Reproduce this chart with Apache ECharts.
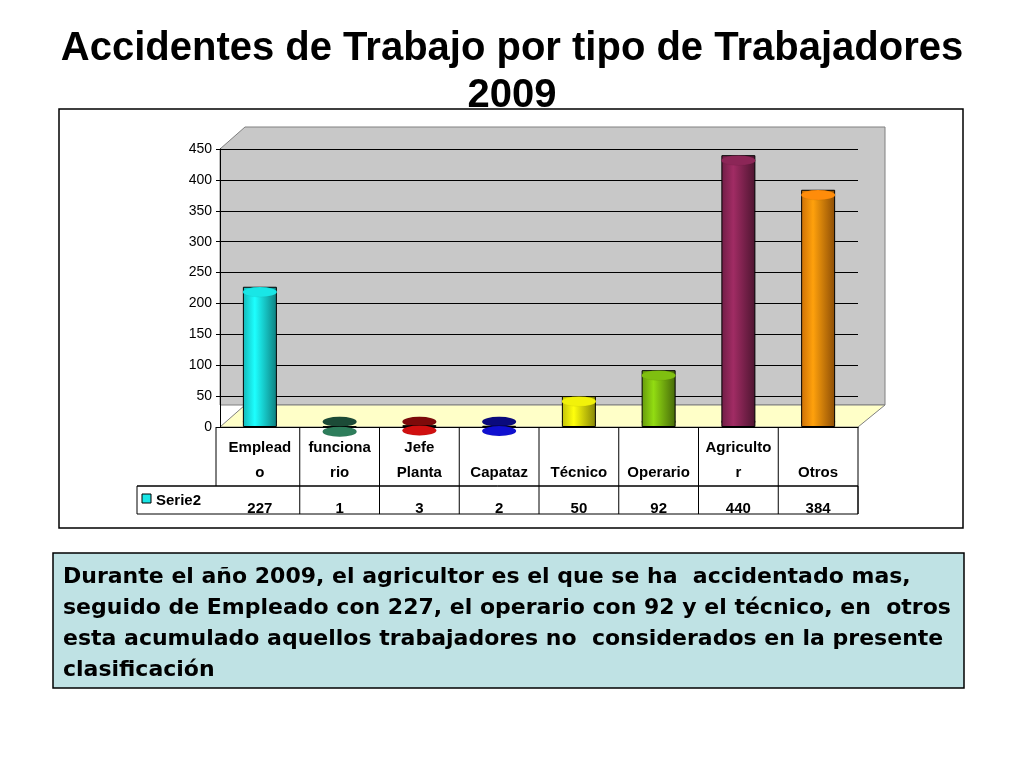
<!DOCTYPE html>
<html><head><meta charset="utf-8">
<script src="https://cdn.jsdelivr.net/npm/echarts@6/dist/echarts.min.js"></script>
<style>html,body{margin:0;padding:0;background:#fff}#c{width:1024px;height:768px}</style>
</head><body><div id="c"></div>
<script>
const categories = ['Emplead\no', 'funciona\nrio', 'Jefe\nPlanta', 'Capataz', 'Técnico', 'Operario', 'Agriculto\nr', 'Otros'];
const values = [227, 1, 3, 2, 50, 92, 440, 384];
const colors = ['#19e6e6', '#2e7d5b', '#d01010', '#1010d0', '#f2f20a', '#7fbf10', '#8c2657', '#ff8c0a'];
const seriesName = 'Serie2';
const yTicks = {min: 0, max: 450, interval: 50};

function shade(c, f) {
  const n = parseInt(c.slice(1), 16);
  let r = (n >> 16) & 255, g = (n >> 8) & 255, b = n & 255;
  r = Math.round(r * f); g = Math.round(g * f); b = Math.round(b * f);
  return 'rgb(' + Math.min(255, r) + ',' + Math.min(255, g) + ',' + Math.min(255, b) + ')';
}
const chart = echarts.init(document.getElementById('c'));
const L = 220, R = 858, T = 149, B = 427;
chart.setOption({
  animation: false,
  title: {text: 'Accidentes de Trabajo por tipo de Trabajadores\n2009', left: 'center', top: 20,
    textStyle: {fontFamily: 'Liberation Sans, Arial', fontSize: 40, fontWeight: 'bold', color: '#000', lineHeight: 47}},
  graphic: [
    {type: 'rect', shape: {x: 59, y: 109, width: 904, height: 419}, style: {fill: '#fff', stroke: '#000', lineWidth: 1.5}, z: -10},
    {type: 'polygon', shape: {points: [[L, 149], [245, 127], [885, 127], [885, 405], [858, 405], [L, 405]]}, style: {fill: '#c8c8c8', stroke: '#808080'}, z: -9},
    {type: 'polygon', shape: {points: [[L, B], [R, B], [885, 405], [245, 405]]}, style: {fill: '#ffffc8', stroke: '#808080'}, z: -8},
    {type: 'polyline', shape: {points: [[137, 486], [R, 486]]}, style: {stroke: '#000'}},
    {type: 'rect', shape: {x: 137, y: 486, width: 721, height: 28}, style: {fill: 'none', stroke: '#000'}},
    {type: 'polyline', shape: {points: [[216, 427], [216, 486]]}, style: {stroke: '#000'}},
    ...categories.map((c, i) => ({type: 'polyline', shape: {points: [[L + (i + 1) * (R - L) / 8, 427], [L + (i + 1) * (R - L) / 8, 514]]}, style: {stroke: '#000'}})),
    {type: 'rect', shape: {x: 142, y: 494, width: 9, height: 9}, style: {fill: '#19e6e6', stroke: '#000'}},
    {type: 'text', left: 156, top: 493, style: {text: seriesName, font: 'bold 15px Liberation Sans, Arial', fill: '#000'}},
    {type: 'rect', shape: {x: 53, y: 553, width: 911, height: 135}, style: {fill: '#bfe2e4', stroke: '#000', lineWidth: 1.5}},
    {type: 'text', left: 63, top: 562, style: {text: 'Durante el año 2009, el agricultor es el que se ha  accidentado mas,\nseguido de Empleado con 227, el operario con 92 y el técnico, en  otros\nesta acumulado aquellos trabajadores no  considerados en la presente\nclasificación', font: 'bold 22px DejaVu Sans, Arial', lineHeight: 31, fill: '#000'}}
  ],
  grid: {left: L, right: 1024 - R, top: T, bottom: 768 - B},
  xAxis: [
    {type: 'category', data: categories, axisTick: {show: false}, axisLine: {lineStyle: {color: '#000'}},
      axisLabel: {fontFamily: 'Liberation Sans, Arial', fontSize: 15, fontWeight: 'bold', color: '#000', lineHeight: 25, margin: 8, interval: 0, verticalAlign: 'top',
        formatter: v => v.indexOf('\n') < 0 ? '\n' + v : v}},
    {type: 'category', data: values.map(String), position: 'bottom', offset: 66, axisLine: {show: false}, axisTick: {show: false},
      axisLabel: {fontFamily: 'Liberation Sans, Arial', fontSize: 15, fontWeight: 'bold', color: '#000', interval: 0}}
  ],
  yAxis: {type: 'value', min: yTicks.min, max: yTicks.max, interval: yTicks.interval,
    axisLine: {show: true, lineStyle: {color: '#000'}}, axisTick: {show: true, length: 4},
    axisLabel: {fontFamily: 'Liberation Sans, Arial', fontSize: 14, color: '#000', margin: 8},
    splitLine: {lineStyle: {color: '#000'}}},
  series: [
    {type: 'bar', barWidth: 34, data: values.map((v, i) => ({value: v, itemStyle: {color: {type: 'linear', x: 0, y: 0, x2: 1, y2: 0,
      colorStops: [{offset: 0, color: shade(colors[i], 0.8)}, {offset: 0.35, color: shade(colors[i], 1.15)}, {offset: 1, color: shade(colors[i], 0.55)}]}, borderColor: '#000', borderWidth: 1}}))},
    {type: 'pictorialBar', symbol: 'circle', symbolSize: [34, 10], symbolPosition: 'end', z: 5,
      data: values.map((v, i) => ({value: v, itemStyle: {color: shade(colors[i], 1.0), borderColor: '#000', borderWidth: 1}}))},
    {type: 'pictorialBar', symbol: 'circle', symbolSize: [34, 10], symbolPosition: 'start', z: 1,
      data: values.map((v, i) => ({value: v, itemStyle: {color: shade(colors[i], 0.6), borderColor: '#000', borderWidth: 1}}))}
  ]
});
</script></body></html>
